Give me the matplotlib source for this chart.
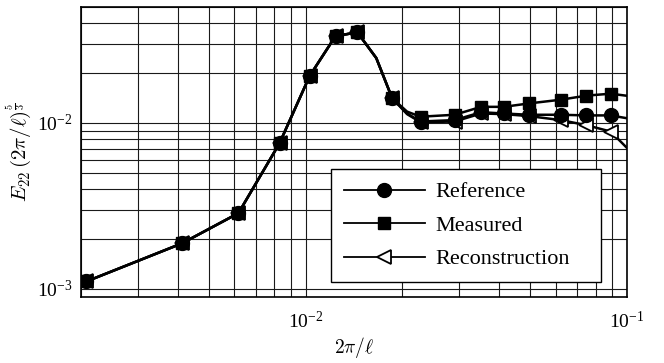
import matplotlib
matplotlib.use("Agg")
import matplotlib.pyplot as plt

plt.rcParams["font.family"] = ["Liberation Serif", "DejaVu Serif"]
plt.rcParams["mathtext.fontset"] = "cm"

# wavenumber 2*pi/l
wavenumber = [0.00208, 0.00412, 0.00618, 0.0083, 0.0103, 0.0124, 0.0145, 0.0166,
              0.0186, 0.0207, 0.0228, 0.0291, 0.0352, 0.0414, 0.0495, 0.0623,
              0.0748, 0.0891, 0.108]
# compensated spectrum E22 * (2*pi/l)^(5/3)
reference = [0.00111, 0.00188, 0.00286, 0.00755, 0.0192, 0.0334, 0.0351, 0.0246,
             0.0141, 0.0114, 0.0102, 0.0104, 0.0116, 0.0114, 0.0112, 0.0112,
             0.0111, 0.0111, 0.0104]
measured = [0.00111, 0.00188, 0.00286, 0.00755, 0.0192, 0.0334, 0.0351, 0.0246,
            0.0141, 0.0117, 0.0109, 0.0112, 0.0125, 0.0125, 0.0131, 0.0138,
            0.0146, 0.0150, 0.0143]
reconstruction = [0.00111, 0.00188, 0.00286, 0.00755, 0.0192, 0.0334, 0.0351, 0.0246,
                  0.0141, 0.0113, 0.0101, 0.0102, 0.0114, 0.0113, 0.0110, 0.0104,
                  0.0097, 0.00887, 0.0061]
# samples that carry a marker
marked = [0, 1, 2, 3, 4, 5, 6, 8, 10, 11, 12, 13, 14, 15, 16, 17]

fig = plt.figure(figsize=(6.64, 3.63), dpi=100)
ax = fig.add_axes([0.122, 0.182, 0.822, 0.799])

lw = 1.8
h_rec, = ax.plot(wavenumber, reconstruction, color="black", lw=lw, marker="<",
                 markersize=10.5, markerfacecolor="white", markeredgecolor="black",
                 markeredgewidth=1.3, markevery=marked, label="Reconstruction", zorder=3)
h_mea, = ax.plot(wavenumber, measured, color="black", lw=lw, marker="s",
                 markersize=9, markevery=marked, label="Measured", zorder=4)
h_ref, = ax.plot(wavenumber, reference, color="black", lw=lw, marker="o",
                 markersize=10, markevery=marked, label="Reference", zorder=5)

ax.set_xscale("log")
ax.set_yscale("log")
ax.set_xlim(0.002, 0.1)
ax.set_ylim(0.000895, 0.05)

ax.grid(True, which="both", color="#1a1a1a", lw=0.8)
ax.set_axisbelow(True)
for s in ax.spines.values():
    s.set_linewidth(1.2)
ax.tick_params(which="both", length=0, labelsize=14)
ax.tick_params(axis="x", pad=10)
ax.tick_params(axis="y", pad=6)

ax.set_xlabel(r"$2\pi/\ell$", fontsize=14, labelpad=2)
ax.set_ylabel(r"$E_{22}\,(2\pi/\ell)^{\frac{5}{3}}$", fontsize=15, labelpad=2)

leg = ax.legend(handles=[h_ref, h_mea, h_rec], loc="upper left",
                bbox_to_anchor=(0.458, 0.141, 0.4945, 0.3), mode="expand",
                borderaxespad=0, fontsize=16,
                handlelength=3.65, handletextpad=0.45, labelspacing=0.58,
                borderpad=0.58, fancybox=False, framealpha=1, edgecolor="black")
leg.get_frame().set_linewidth(1.0)
for h in leg.legend_handles:
    h.set_linewidth(1.3)

fig.savefig("out.png", dpi=100)
